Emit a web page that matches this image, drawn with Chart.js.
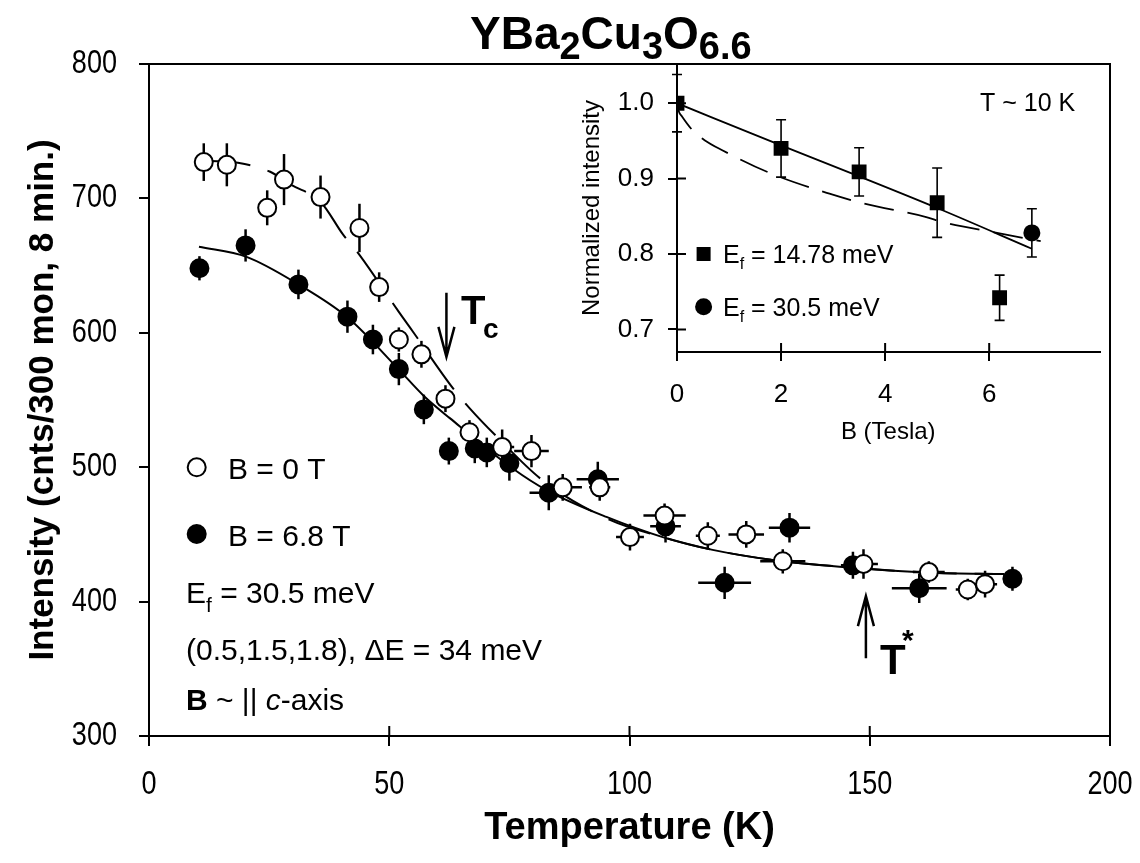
<!DOCTYPE html>
<html>
<head>
<meta charset="utf-8">
<script src="https://cdn.jsdelivr.net/npm/chart.js@4.4.1/dist/chart.umd.min.js"></script>
<style>
  html, body { margin: 0; padding: 0; background: #fff; }
  #wrap { position: relative; width: 1140px; height: 863px; }
  #mainChart { position: absolute; left: 0; top: 0; }
  #insetChart { position: absolute; left: 540px; top: 24px; }
</style>
</head>
<body>
<div id="wrap">
  <canvas id="mainChart" width="1140" height="863"></canvas>
  <canvas id="insetChart" width="570" height="430"></canvas>
</div>
<script>
/* main panel: temperature scans at B = 0 T and B = 6.8 T */
const tOpen   = [11.4, 16.2, 24.6, 28.1, 35.7, 43.8, 47.9, 52.0, 56.7, 61.7, 66.7, 73.5, 79.6, 86.1, 93.8, 100.1, 107.3, 116.3, 124.3, 131.9, 148.7, 162.3, 170.4, 174.0];
const iOpen   = [727, 725, 693, 714, 701, 678, 634, 595, 584, 551, 526, 515, 512, 485, 485, 448, 464, 449, 450, 430, 428, 422, 409, 413];
const dIOpen  = [14, 16, 13, 19, 16, 18, 11, 9, 10, 10, 9, 13, 12, 10, 10, 10, 9, 10, 10, 9, 11, 8, 8, 10];
const dTOpen  = [0, 0, 0, 0, 0, 0, 0, 0, 0, 0, 0, 2.5, 3.6, 4, 2.2, 2.9, 4.4, 2.5, 3.7, 4.7, 3, 3.3, 2.5, 2.5];

const tFilled  = [10.5, 20.1, 31.1, 41.3, 46.6, 52.0, 57.2, 62.4, 67.8, 70.3, 75.0, 83.2, 93.4, 107.5, 119.8, 133.3, 146.5, 160.3, 179.7];
const iFilled  = [648, 665, 636, 612, 595, 573, 543, 512, 514, 511, 503, 481, 491, 456, 414, 455, 427, 410, 417];
const dIFilled = [9, 12, 11, 12, 11, 12, 11, 10, 11, 11, 13, 13, 13, 12, 12, 11, 10, 11, 9];
const dTFilled = [0, 0, 0, 0, 0, 0, 0, 0, 0, 0, 0, 4, 4.4, 3.2, 5.5, 4.3, 2.5, 5.7, 2];

// guide lines
const tFit  = [10.4, 20.3, 31.1, 41.3, 51.9, 57.2, 62.6, 75.7, 82.7, 95.2, 106.9, 117.3, 129.8, 143.7, 163.1, 178];
const iFit  = [664, 656.5, 636, 611.5, 573, 553, 536.5, 499, 483, 463, 448, 438.5, 431, 426, 421.5, 420.5];
const tDash = [12, 18.5, 25.1, 29.6, 35.7, 40.4, 43.8, 52.1, 54.9, 63.2, 66.7, 72.3, 82.0, 95.8, 106.9, 117.3, 129.8, 143.7, 163.1, 176];
const iDash = [728, 726.5, 720, 710, 697.5, 673, 658, 615, 601, 559, 544, 523, 490, 461, 448, 438.5, 431, 426, 421.5, 420.5];

const tempTicks = [0, 50, 100, 150, 200];
const intTicks  = [300, 400, 500, 600, 700, 800];

/* inset: field dependence at T ~ 10 K */
const bSquare  = [0, 2, 3.5, 5, 6.2];
const nSquare  = [1.0, 0.94, 0.909, 0.868, 0.742];
const dnSquare = [0.038, 0.038, 0.032, 0.046, 0.03];
const bCircle  = [6.82];
const nCircle  = [0.828];
const dnCircle = [0.032];
const bLin  = [0, 2, 3.5, 5, 6.82];
const nLin  = [1.0, 0.944, 0.903, 0.861, 0.807];
const bSqrt = [0, 0.03, 0.1, 0.3, 0.53, 0.86, 1.8, 2.93, 3.59, 4.79, 5.12, 6.15, 6.99];
const nSqrt = [1.0, 0.99, 0.982, 0.964, 0.951, 0.938, 0.907, 0.88, 0.867, 0.849, 0.842, 0.828, 0.817];
const fieldTicks = [0, 2, 4, 6];
const normTicks  = [0.7, 0.8, 0.9, 1.0];

const SANS = "'Liberation Sans', Arial, sans-serif";

const pts = (xs, ys) => xs.map((x, i) => ({ x: x, y: ys[i] }));

// draws a row of text pieces (used for sub/superscripts)
function drawRuns(ctx, x, y, runs) {
  ctx.textBaseline = 'alphabetic';
  ctx.textAlign = 'left';
  runs.forEach(r => {
    ctx.font = r.f;
    ctx.fillText(r.t, x, y + (r.dy || 0));
    x += ctx.measureText(r.t).width;
  });
  return x;
}

/** error bars from dataset.errY / dataset.errX, drawn under the markers */
const errorBars = {
  id: 'errorBars',
  beforeDatasetsDraw(chart, args, opts) {
    const ctx = chart.ctx, xs = chart.scales.x, ys = chart.scales.y;
    ctx.save();
    ctx.strokeStyle = '#000';
    ctx.lineWidth = opts.width;
    chart.data.datasets.forEach(ds => {
      if (!ds.errY) return;
      ds.data.forEach((p, i) => {
        const x = xs.getPixelForValue(p.x);
        const y = ys.getPixelForValue(p.y);
        const y1 = ys.getPixelForValue(p.y + ds.errY[i]);
        const y2 = ys.getPixelForValue(p.y - ds.errY[i]);
        ctx.beginPath();
        ctx.moveTo(x, y1); ctx.lineTo(x, y2);
        if (opts.cap) {
          ctx.moveTo(x - opts.cap, y1); ctx.lineTo(x + opts.cap, y1);
          ctx.moveTo(x - opts.cap, y2); ctx.lineTo(x + opts.cap, y2);
        }
        const dx = ds.errX ? ds.errX[i] : 0;
        if (dx) {
          ctx.moveTo(xs.getPixelForValue(p.x - dx), y);
          ctx.lineTo(xs.getPixelForValue(p.x + dx), y);
        }
        ctx.stroke();
      });
    });
    ctx.restore();
  }
};

/** inner half of crossing tick marks + frame */
const frameTicks = {
  id: 'frameTicks',
  afterDraw(chart, args, opts) {
    const ctx = chart.ctx, a = chart.chartArea;
    const xs = chart.scales.x, ys = chart.scales.y;
    ctx.save();
    ctx.strokeStyle = '#000';
    ctx.lineWidth = 2;
    ctx.beginPath();
    xs.ticks.forEach(t => {
      const x = xs.getPixelForValue(t.value);
      ctx.moveTo(x, a.bottom); ctx.lineTo(x, a.bottom - opts.len);
    });
    if (opts.yInner) {
      ys.ticks.forEach(t => {
        const y = ys.getPixelForValue(t.value);
        ctx.moveTo(a.left, y); ctx.lineTo(a.left + opts.len, y);
      });
    }
    if (opts.box) {
      ctx.moveTo(a.left - 10, a.top); ctx.lineTo(a.right, a.top); ctx.lineTo(a.right, a.bottom);
    }
    ctx.stroke();
    ctx.restore();
  }
};

/** tick labels of the main panel in a condensed face (squeezed Liberation Sans) */
const condensedLabels = {
  id: 'condensedLabels',
  afterDraw(chart, args, opts) {
    const ctx = chart.ctx, a = chart.chartArea;
    const xs = chart.scales.x, ys = chart.scales.y;
    ctx.save();
    ctx.fillStyle = '#000';
    ctx.font = opts.size + 'px ' + SANS;
    ctx.textBaseline = 'middle';
    const put = (text, x, y, align) => {
      ctx.save();
      ctx.translate(x, y);
      ctx.scale(opts.squeeze, 1);
      ctx.textAlign = align;
      ctx.fillText(text, 0, 0);
      ctx.restore();
    };
    xs.ticks.forEach(t => put(String(t.value), xs.getPixelForValue(t.value), a.bottom + opts.xGap, 'center'));
    ys.ticks.forEach(t => put(String(t.value), a.left - opts.yGap, ys.getPixelForValue(t.value), 'right'));
    ctx.restore();
  }
};

/** title, legend and annotations of the main panel */
const mainText = {
  id: 'mainText',
  afterDraw(chart) {
    const ctx = chart.ctx, xs = chart.scales.x, ys = chart.scales.y;
    ctx.save();
    ctx.fillStyle = '#000';
    ctx.strokeStyle = '#000';

    // title
    drawRuns(ctx, 470, 49, [
      { t: 'YBa', f: 'bold 46px ' + SANS },
      { t: '2', f: 'bold 38px ' + SANS, dy: 10 },
      { t: 'Cu', f: 'bold 46px ' + SANS },
      { t: '3', f: 'bold 38px ' + SANS, dy: 10 },
      { t: 'O', f: 'bold 46px ' + SANS },
      { t: '6.6', f: 'bold 38px ' + SANS, dy: 10 }
    ]);

    // legend markers
    ctx.lineWidth = 2;
    ctx.beginPath(); ctx.arc(196.7, 467.3, 9, 0, Math.PI * 2);
    ctx.fillStyle = '#fff'; ctx.fill(); ctx.stroke();
    ctx.fillStyle = '#000';
    ctx.beginPath(); ctx.arc(196.7, 534, 10, 0, Math.PI * 2); ctx.fill();

    const f30 = '30px ' + SANS;
    drawRuns(ctx, 228, 479, [{ t: 'B = 0 T', f: f30 }]);
    drawRuns(ctx, 228, 545.5, [{ t: 'B = 6.8 T', f: f30 }]);
    drawRuns(ctx, 186, 602.5, [
      { t: 'E', f: f30 }, { t: 'f', f: '21px ' + SANS, dy: 9 }, { t: ' = 30.5 meV', f: f30 }
    ]);
    drawRuns(ctx, 186, 660, [{ t: '(0.5,1.5,1.8), \u0394E = 34 meV', f: f30 }]);
    drawRuns(ctx, 186, 710, [
      { t: 'B', f: 'bold 30px ' + SANS }, { t: ' ~ || ', f: f30 },
      { t: 'c', f: 'italic 30px ' + SANS }, { t: '-axis', f: f30 }
    ]);

    // T_c arrow (down) and T* arrow (up)
    ctx.lineWidth = 2.5;
    const arrow = (t, from, to) => {
      const x = xs.getPixelForValue(t);
      const y0 = ys.getPixelForValue(from), y1 = ys.getPixelForValue(to);
      const s = y1 > y0 ? -1 : 1;
      ctx.beginPath();
      ctx.moveTo(x, y0); ctx.lineTo(x, y1);
      ctx.moveTo(x - 8, y1 + s * 30); ctx.lineTo(x, y1); ctx.lineTo(x + 8, y1 + s * 30);
      ctx.stroke();
    };
    arrow(61.9, 629.8, 582.1);
    arrow(149.2, 357.9, 404.1);

    drawRuns(ctx, 461, 324, [{ t: 'T', f: 'bold 40px ' + SANS }]);
    drawRuns(ctx, 483, 338, [{ t: 'c', f: 'bold 28px ' + SANS }]);
    drawRuns(ctx, 880, 674, [{ t: 'T', f: 'bold 42px ' + SANS }]);
    drawRuns(ctx, 902, 650, [{ t: '*', f: 'bold 30px ' + SANS }]);
    ctx.restore();
  }
};

const _mainChart = document.getElementById('mainChart');

new Chart(_mainChart, {
  type: 'scatter',
  data: {
    datasets: [
      {
        label: 'B = 0 T',
        data: pts(tOpen, iOpen),
        errY: dIOpen, errX: dTOpen,
        pointRadius: 9, pointBorderWidth: 2,
        backgroundColor: '#fff', borderColor: '#000',
        order: 0
      },
      {
        label: 'B = 6.8 T',
        data: pts(tFilled, iFilled),
        errY: dIFilled, errX: dTFilled,
        pointRadius: 9, pointBorderWidth: 2,
        backgroundColor: '#000', borderColor: '#000',
        order: 1
      },
      {
        label: 'fit 6.8 T',
        data: pts(tFit, iFit),
        showLine: true, pointRadius: 0,
        borderColor: '#000', borderWidth: 2,
        cubicInterpolationMode: 'monotone',
        order: 2
      },
      {
        label: 'fit 0 T',
        data: pts(tDash, iDash),
        showLine: true, pointRadius: 0,
        borderColor: '#000', borderWidth: 2, borderDash: [44, 18],
        cubicInterpolationMode: 'monotone',
        order: 3
      }
    ]
  },
  options: {
    responsive: false,
    animation: false,
    devicePixelRatio: 1,
    layout: { padding: { left: 0, top: 64, right: 30, bottom: 0 } },
    plugins: {
      legend: { display: false },
      tooltip: { enabled: false },
      errorBars: { width: 2.5 },
      frameTicks: { len: 10, box: true },
      condensedLabels: { size: 33, squeeze: 0.82, xGap: 49, yGap: 32 }
    },
    scales: {
      x: {
        type: 'linear', min: 0, max: 200,
        afterBuildTicks: s => { s.ticks = tempTicks.map(v => ({ value: v })); },
        ticks: { display: false },
        grid: { drawOnChartArea: false, color: '#000', lineWidth: 2, tickLength: 10 },
        border: { color: '#000', width: 2 },
        title: {
          display: true, text: 'Temperature (K)', color: '#000',
          font: { family: SANS, size: 38, weight: 'bold' },
          padding: { top: 0, bottom: 12 }
        },
        afterFit: s => { s.height = 127; s.paddingLeft = 0; s.paddingRight = 0; }
      },
      y: {
        type: 'linear', min: 300, max: 800,
        afterBuildTicks: s => { s.ticks = intTicks.map(v => ({ value: v })); },
        ticks: { display: false },
        grid: { drawOnChartArea: false, color: '#000', lineWidth: 2, tickLength: 10 },
        border: { color: '#000', width: 2 },
        title: {
          display: true, text: 'Intensity (cnts/300 mon, 8 min.)', color: '#000',
          font: { family: SANS, size: 35, weight: 'bold' },
          padding: 22
        },
        afterFit: s => { s.width = 149; s.paddingTop = 0; s.paddingBottom = 0; }
      }
    }
  },
  plugins: [errorBars, frameTicks, condensedLabels, mainText]
});

/** inset legend and label */
const insetText = {
  id: 'insetText',
  afterDraw(chart) {
    const ctx = chart.ctx;
    ctx.save();
    ctx.fillStyle = '#000';
    const f25 = '25px ' + SANS;
    drawRuns(ctx, 440, 86.5, [{ t: 'T ~ 10 K', f: f25 }]);
    ctx.fillRect(156.6, 223, 14, 14);
    drawRuns(ctx, 183, 239, [
      { t: 'E', f: f25 }, { t: 'f', f: '16px ' + SANS, dy: 6 }, { t: ' = 14.78 meV', f: f25 }
    ]);
    ctx.beginPath(); ctx.arc(163.6, 282.7, 8.5, 0, Math.PI * 2); ctx.fill();
    drawRuns(ctx, 183, 292, [
      { t: 'E', f: f25 }, { t: 'f', f: '16px ' + SANS, dy: 6 }, { t: ' = 30.5 meV', f: f25 }
    ]);
    ctx.restore();
  }
};

const _insetChart = document.getElementById('insetChart');

new Chart(_insetChart, {
  type: 'scatter',
  data: {
    datasets: [
      {
        label: 'Ef = 14.78 meV',
        data: pts(bSquare, nSquare), errY: dnSquare,
        pointStyle: 'rect', pointRadius: 10.5, pointBorderWidth: 0,
        backgroundColor: '#000', borderColor: '#000', order: 0
      },
      {
        label: 'Ef = 30.5 meV',
        data: pts(bCircle, nCircle), errY: dnCircle,
        pointRadius: 8.5, pointBorderWidth: 0,
        backgroundColor: '#000', borderColor: '#000', order: 1
      },
      {
        label: 'linear',
        data: pts(bLin, nLin), showLine: true, pointRadius: 0,
        borderColor: '#000', borderWidth: 1.8,
        cubicInterpolationMode: 'monotone', order: 2
      },
      {
        label: 'dashed',
        data: pts(bSqrt, nSqrt), showLine: true, pointRadius: 0,
        borderColor: '#000', borderWidth: 1.8, borderDash: [30, 14],
        cubicInterpolationMode: 'monotone', order: 3
      }
    ]
  },
  options: {
    responsive: false,
    animation: false,
    devicePixelRatio: 1,
    layout: { padding: { left: 0, top: 40, right: 0, bottom: 0 } },
    plugins: {
      legend: { display: false },
      tooltip: { enabled: false },
      errorBars: { width: 1.6, cap: 5 },
      frameTicks: { len: 9, yInner: true, box: false }
    },
    scales: {
      x: {
        type: 'linear', min: 0, max: 8.12,
        afterBuildTicks: s => { s.ticks = fieldTicks.map(v => ({ value: v })); },
        ticks: { font: { family: SANS, size: 26 }, color: '#000', padding: 18, maxRotation: 0 },
        grid: { drawOnChartArea: false, color: '#000', lineWidth: 2, tickLength: 9 },
        border: { color: '#000', width: 2 },
        title: {
          display: true, text: 'B (Tesla)', color: '#000',
          font: { family: SANS, size: 24 }, padding: { top: 0, bottom: 7 }
        },
        afterFit: s => { s.height = 102; s.paddingLeft = 0; s.paddingRight = 0; }
      },
      y: {
        type: 'linear', min: 0.670, max: 1.052,
        afterBuildTicks: s => { s.ticks = normTicks.map(v => ({ value: v })); },
        ticks: {
          font: { family: SANS, size: 26 }, color: '#000', padding: 14,
          callback: v => v.toFixed(1)
        },
        grid: { drawOnChartArea: false, color: '#000', lineWidth: 2, tickLength: 9 },
        border: { color: '#000', width: 2 },
        title: {
          display: true, text: 'Normalized intensity', color: '#000',
          font: { family: SANS, size: 24 }, padding: 38
        },
        afterFit: s => { s.width = 137; s.paddingTop = 0; s.paddingBottom = 0; }
      }
    }
  },
  plugins: [errorBars, frameTicks, insetText]
});
</script>
</body>
</html>
